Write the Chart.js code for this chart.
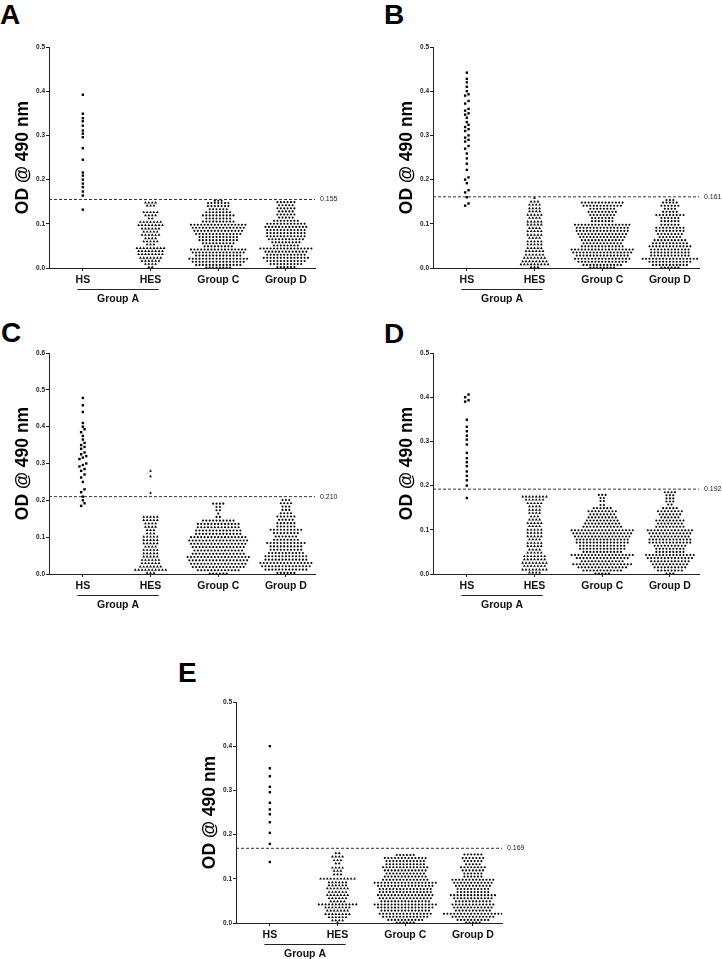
<!DOCTYPE html>
<html>
<head>
<meta charset="utf-8">
<script src="https://cdn.jsdelivr.net/npm/chart.js@4.4.0/dist/chart.umd.min.js"></script>
<style>
html, body { margin: 0; padding: 0; background: #fff; overflow: hidden; }
body { width: 722px; height: 959px; position: relative; font-family: "Liberation Sans", Arial, sans-serif; }
.panel { position: absolute; }
.letter { position: absolute; font-weight: bold; font-size: 28px; line-height: 28px; color: #000; }
</style>
</head>
<body>
<div class="letter" style="left:0px;top:1px">A</div>
<div class="letter" style="left:384px;top:1px">B</div>
<div class="letter" style="left:1px;top:319px">C</div>
<div class="letter" style="left:384px;top:320px">D</div>
<div class="letter" style="left:178px;top:659px">E</div>

<div class="panel" style="left:0px;top:0px"><canvas id="cA" width="361" height="310"></canvas></div>
<div class="panel" style="left:384px;top:0px"><canvas id="cB" width="361" height="310"></canvas></div>
<div class="panel" style="left:0px;top:306px"><canvas id="cC" width="361" height="310"></canvas></div>
<div class="panel" style="left:384px;top:306px"><canvas id="cD" width="361" height="310"></canvas></div>
<div class="panel" style="left:187px;top:655px"><canvas id="cE" width="361" height="310"></canvas></div>

<script>
// categories and labels
var categories = ['HS', 'HES', 'Group C', 'Group D'];
var bracketLabel = 'Group A';
var yTitle = 'OD @ 490 nm';

// per panel: y axis max and cut-off
var yMaxes = [0.5, 0.5, 0.6, 0.5, 0.5];
var cutoffs = [0.155, 0.161, 0.210, 0.192, 0.169];
var cutoffLabels = ['0.155', '0.161', '0.210', '0.192', '0.169'];

// HS: single values; other groups: [value, number of dots in that row]
var A_HS = [0.132, 0.164, 0.173, 0.183, 0.191, 0.200, 0.209, 0.216, 0.245, 0.271, 0.296, 0.304, 0.311, 0.322, 0.332, 0.339, 0.349, 0.392];
var A_HES = [[0.002,2],[0.009,4],[0.016,6],[0.023,7],[0.031,8],[0.038,8],[0.045,9],[0.053,3],[0.060,5],[0.067,4],[0.075,6],[0.082,5],[0.089,6],[0.097,8],[0.104,7],[0.112,2],[0.119,4],[0.126,5],[0.141,3],[0.148,4]];
var A_C = [[0.001,8],[0.007,14],[0.014,16],[0.021,18],[0.028,14],[0.035,16],[0.042,17],[0.049,9],[0.056,10],[0.063,12],[0.070,12],[0.077,14],[0.084,15],[0.091,16],[0.098,17],[0.105,10],[0.112,8],[0.119,10],[0.126,8],[0.133,6],[0.140,7],[0.147,7],[0.152,3]];
var A_D = [[0.002,6],[0.009,10],[0.016,12],[0.023,14],[0.030,12],[0.037,13],[0.044,16],[0.051,8],[0.058,9],[0.065,11],[0.072,12],[0.079,12],[0.086,12],[0.093,13],[0.100,12],[0.107,8],[0.114,5],[0.121,6],[0.128,5],[0.135,6],[0.142,5],[0.149,6]];

var B_HS = [0.141, 0.146, 0.160, 0.171, 0.176, 0.192, 0.200, 0.205, 0.222, 0.236, 0.248, 0.259, 0.270, 0.276, 0.286, 0.290, 0.295, 0.300, 0.310, 0.314, 0.319, 0.324, 0.330, 0.340, 0.347, 0.350, 0.356, 0.360, 0.372, 0.378, 0.390, 0.393, 0.400, 0.410, 0.420, 0.428, 0.442];
var B_HES = [[0.002,3],[0.008,9],[0.015,8],[0.023,7],[0.030,6],[0.038,6],[0.045,5],[0.053,5],[0.060,5],[0.068,4],[0.075,5],[0.083,5],[0.090,4],[0.098,5],[0.105,5],[0.113,4],[0.120,5],[0.128,4],[0.135,4],[0.143,4],[0.150,3],[0.158,1]];
var B_C = [[0.001,8],[0.007,12],[0.014,15],[0.021,17],[0.028,16],[0.035,18],[0.042,19],[0.049,13],[0.056,12],[0.063,13],[0.070,14],[0.077,15],[0.084,16],[0.091,16],[0.098,17],[0.106,7],[0.113,7],[0.120,8],[0.127,9],[0.134,8],[0.141,12],[0.148,13]];
var B_D = [[0.001,6],[0.007,11],[0.014,13],[0.021,17],[0.028,12],[0.035,12],[0.042,12],[0.049,13],[0.056,11],[0.063,10],[0.070,7],[0.077,8],[0.084,9],[0.091,9],[0.098,6],[0.106,6],[0.113,6],[0.120,9],[0.127,5],[0.134,4],[0.141,6],[0.148,5],[0.154,3]];

var C_HS = [0.185, 0.192, 0.200, 0.210, 0.222, 0.230, 0.250, 0.262, 0.270, 0.280, 0.285, 0.292, 0.296, 0.300, 0.312, 0.316, 0.320, 0.325, 0.330, 0.340, 0.345, 0.350, 0.356, 0.365, 0.375, 0.385, 0.393, 0.400, 0.410, 0.440, 0.458, 0.478];
var C_HES = [[0.003,3],[0.011,10],[0.020,7],[0.029,6],[0.038,6],[0.047,5],[0.056,5],[0.065,5],[0.074,4],[0.083,5],[0.092,5],[0.101,5],[0.110,3],[0.119,3],[0.128,4],[0.137,4],[0.146,5],[0.155,5],[0.220,1],[0.265,1],[0.280,1]];
var C_C = [[0.001,6],[0.010,13],[0.019,16],[0.028,17],[0.037,18],[0.046,19],[0.055,16],[0.064,15],[0.073,16],[0.082,17],[0.091,18],[0.100,17],[0.109,14],[0.118,14],[0.127,13],[0.136,13],[0.145,10],[0.155,2],[0.164,1],[0.173,2],[0.182,2],[0.191,4]];
var C_D = [[0.003,6],[0.012,13],[0.021,15],[0.030,16],[0.039,13],[0.048,13],[0.057,11],[0.066,10],[0.075,10],[0.084,12],[0.093,8],[0.102,7],[0.111,8],[0.120,10],[0.129,6],[0.138,6],[0.147,5],[0.156,6],[0.165,4],[0.174,3],[0.183,3],[0.192,4],[0.201,3]];

var D_HS = [0.172, 0.200, 0.212, 0.222, 0.232, 0.244, 0.253, 0.262, 0.274, 0.293, 0.304, 0.313, 0.323, 0.333, 0.349, 0.390, 0.393, 0.400, 0.406];
var D_HES = [[0.003,4],[0.010,8],[0.018,7],[0.025,8],[0.033,7],[0.040,7],[0.048,5],[0.055,4],[0.063,5],[0.070,5],[0.078,4],[0.085,5],[0.093,5],[0.100,5],[0.108,4],[0.115,5],[0.123,4],[0.130,3],[0.138,4],[0.145,4],[0.153,4],[0.160,5],[0.168,6],[0.175,8]];
var D_C = [[0.001,5],[0.008,12],[0.015,15],[0.022,18],[0.029,13],[0.036,16],[0.043,19],[0.050,12],[0.057,14],[0.064,14],[0.071,16],[0.078,16],[0.085,17],[0.092,18],[0.099,19],[0.107,12],[0.114,11],[0.121,10],[0.128,9],[0.135,8],[0.142,9],[0.149,6],[0.156,2],[0.165,2],[0.172,2],[0.179,3]];
var D_D = [[0.001,3],[0.008,8],[0.015,10],[0.022,11],[0.029,12],[0.036,14],[0.043,15],[0.050,9],[0.057,9],[0.064,10],[0.071,13],[0.078,13],[0.085,12],[0.092,13],[0.099,14],[0.107,9],[0.114,8],[0.121,9],[0.128,6],[0.135,7],[0.142,8],[0.149,5],[0.157,2],[0.164,3],[0.171,3],[0.178,3],[0.185,4]];

var E_HS = [0.138, 0.179, 0.204, 0.228, 0.246, 0.257, 0.272, 0.296, 0.308, 0.332, 0.350, 0.400];
var E_HES = [[0.001,1],[0.006,4],[0.013,6],[0.020,8],[0.028,7],[0.035,8],[0.042,12],[0.049,5],[0.056,6],[0.063,7],[0.070,6],[0.078,7],[0.085,6],[0.092,6],[0.100,11],[0.110,3],[0.118,3],[0.125,4],[0.135,2],[0.142,3],[0.150,4],[0.158,2]];
var E_C = [[0.001,6],[0.007,11],[0.014,14],[0.021,16],[0.028,15],[0.035,17],[0.042,19],[0.049,15],[0.056,16],[0.063,17],[0.070,16],[0.077,16],[0.084,17],[0.091,19],[0.098,14],[0.105,13],[0.112,12],[0.119,13],[0.126,14],[0.133,12],[0.140,12],[0.147,13],[0.154,6]];
var E_D = [[0.001,5],[0.007,10],[0.014,13],[0.021,18],[0.028,11],[0.035,12],[0.042,13],[0.049,11],[0.056,12],[0.063,14],[0.070,10],[0.077,10],[0.084,11],[0.091,12],[0.098,13],[0.105,6],[0.112,6],[0.119,7],[0.126,8],[0.133,5],[0.140,6],[0.147,7],[0.155,6]];

var FONT = '"Liberation Sans", Arial, sans-serif';
Chart.defaults.font.family = FONT;
Chart.defaults.color = '#111';

var X_MIN = -0.5, X_MAX = 3.43;
var AREA_W = 266, AREA_H = 221;
var DOT_PX = 3.4;

function expandRows(rows) {
    var out = [];
    rows.forEach(function(r) {
        for (var k = 0; k < r[1]; k++) out.push(r[0]);
    });
    return out;
}

// column scatter: values close together go in one row, spread sideways
function swarm(values, cat, tol, step) {
    var s = values.slice().sort(function(a, b) { return a - b; });
    var pts = [];
    var i = 0;
    while (i < s.length) {
        var j = i;
        while (j < s.length && s[j] - s[i] <= tol) j++;
        var n = j - i;
        for (var k = 0; k < n; k++) {
            pts.push({ x: cat + (k - (n - 1) / 2) * step, y: s[i + k] });
        }
        i = j;
    }
    return pts;
}

function makePanel(id, idx, hs, hes, gc, gd) {
    var yMax = yMaxes[idx];
    var cut = cutoffs[idx];
    var step = DOT_PX / (AREA_W / (X_MAX - X_MIN));
    var hsTol = 3 / (AREA_H / yMax);

    var dot = { type: 'scatter', showLine: false, pointBackgroundColor: '#000', pointBorderWidth: 0, pointHoverRadius: 0 };
    var datasets = [
        Object.assign({}, dot, { data: swarm(hs, 0, hsTol, step), pointStyle: 'rect', pointRadius: 1.7 }),
        Object.assign({}, dot, { data: swarm(expandRows(hes), 1, 1e-6, step), pointStyle: 'triangle', pointRadius: 1.6 }),
        Object.assign({}, dot, { data: swarm(expandRows(gc), 2, 1e-6, step), pointStyle: 'circle', pointRadius: 1.05 }),
        Object.assign({}, dot, { data: swarm(expandRows(gd), 3, 1e-6, step), pointStyle: 'circle', pointRadius: 1.05 }),
        {
            type: 'line',
            data: [{ x: X_MIN, y: cut }, { x: X_MAX, y: cut }],
            borderColor: '#333', borderWidth: 1, borderDash: [3, 2],
            pointRadius: 0, fill: false
        }
    ];

    var extras = {
        id: 'extras',
        afterDraw: function(chart) {
            var ctx = chart.ctx, area = chart.chartArea;
            var x = chart.scales.x, y = chart.scales.y;
            ctx.save();
            ctx.fillStyle = '#222';
            ctx.font = '7px ' + FONT;
            ctx.textAlign = 'left';
            ctx.textBaseline = 'middle';
            ctx.fillText(cutoffLabels[idx], area.right + 5, y.getPixelForValue(cut));

            var x0 = x.getPixelForValue(-0.08), x1 = x.getPixelForValue(1.12);
            var by = Math.round(area.bottom + 21) + 0.5;
            ctx.strokeStyle = '#222';
            ctx.lineWidth = 1;
            ctx.beginPath();
            ctx.moveTo(x0, by);
            ctx.lineTo(x1, by);
            ctx.stroke();
            ctx.fillStyle = '#111';
            ctx.font = 'bold 10.5px ' + FONT;
            ctx.textAlign = 'center';
            ctx.fillText(bracketLabel, (x0 + x1) / 2, by + 9.5);
            ctx.restore();
        }
    };

    new Chart(document.getElementById(id), {
        type: 'scatter',
        data: { datasets: datasets },
        options: {
            responsive: false,
            animation: false,
            events: [],
            layout: { padding: { top: 47, right: 46, left: 0, bottom: 0 } },
            plugins: { legend: { display: false }, tooltip: { enabled: false } },
            scales: {
                x: {
                    type: 'linear',
                    min: X_MIN, max: X_MAX,
                    afterFit: function(s) { s.height = 42; },
                    afterBuildTicks: function(s) {
                        s.ticks = [0, 1, 2, 3].map(function(v) { return { value: v }; });
                    },
                    ticks: {
                        autoSkip: false, maxRotation: 0, padding: 3,
                        font: { size: 10.5, weight: 'bold' }, color: '#111',
                        callback: function(v) { return categories[v]; }
                    },
                    grid: { drawOnChartArea: false, tickLength: 3, color: '#222' },
                    border: { color: '#222', width: 1 }
                },
                y: {
                    min: 0, max: yMax,
                    afterFit: function(s) { s.width = 49; },
                    ticks: {
                        stepSize: 0.1, padding: 1,
                        font: { size: 6.5, weight: 'bold' }, color: '#222',
                        callback: function(v) { return Number(v).toFixed(1); }
                    },
                    grid: { drawOnChartArea: false, tickLength: 3, color: '#222' },
                    border: { color: '#222', width: 1 },
                    title: {
                        display: true, text: yTitle,
                        font: { size: 17.5, weight: 'bold' }, color: '#000',
                        padding: { top: 13, bottom: 0 }
                    }
                }
            }
        },
        plugins: [extras]
    });
}

makePanel('cA', 0, A_HS, A_HES, A_C, A_D);
makePanel('cB', 1, B_HS, B_HES, B_C, B_D);
makePanel('cC', 2, C_HS, C_HES, C_C, C_D);
makePanel('cD', 3, D_HS, D_HES, D_C, D_D);
makePanel('cE', 4, E_HS, E_HES, E_C, E_D);
</script>
</body>
</html>
